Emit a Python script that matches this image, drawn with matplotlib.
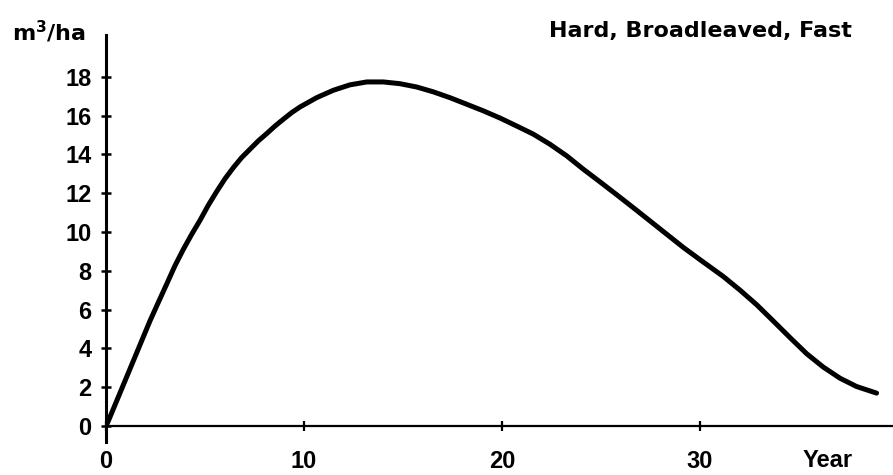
import matplotlib
matplotlib.use("Agg")
import matplotlib.pyplot as plt

# points: year vs m3/ha
years = [0, 0.12, 0.54, 0.96, 1.38, 1.80, 2.22, 2.64, 3.06, 3.48, 3.91,
         4.33, 4.75, 5.17, 5.59, 6.01, 6.43, 6.85, 7.27, 7.69, 8.12, 8.54,
         8.96, 9.38, 9.80, 10.64, 11.48, 12.32, 13.17, 14.01, 14.85, 15.69,
         16.53, 17.37, 18.22, 19.06, 19.90, 20.74, 21.58, 22.42, 23.27,
         24.11, 24.95, 25.79, 26.63, 27.47, 28.32, 29.16, 30.00,
         31.18, 32.02, 32.86, 33.70, 34.55, 35.39, 36.23, 37.07, 37.91, 38.92]
volume = [0, 0.26, 1.29, 2.32, 3.35, 4.38, 5.41, 6.36, 7.30, 8.25, 9.11,
          9.88, 10.60, 11.38, 12.08, 12.74, 13.31, 13.83, 14.26, 14.69, 15.07,
          15.46, 15.81, 16.15, 16.44, 16.92, 17.30, 17.58, 17.73, 17.73, 17.64,
          17.47, 17.22, 16.92, 16.58, 16.24, 15.87, 15.46, 15.04, 14.52, 13.92,
          13.23, 12.58, 11.92, 11.25, 10.57, 9.88, 9.20, 8.57,
          7.70, 7.00, 6.25, 5.41, 4.55, 3.72, 3.03, 2.46, 2.03, 1.69]
xticks = [0, 10, 20, 30]
yticks = [0, 2, 4, 6, 8, 10, 12, 14, 16, 18]
title = "Hard, Broadleaved, Fast"

plt.rcParams['font.family'] = ['Liberation Sans', 'DejaVu Sans']
plt.rcParams['font.weight'] = 'bold'
plt.rcParams['mathtext.fontset'] = 'custom'
plt.rcParams['mathtext.bf'] = 'DejaVu Sans:bold'
plt.rcParams['mathtext.rm'] = 'DejaVu Sans:bold'
plt.rcParams['mathtext.default'] = 'bf'

fig = plt.figure(figsize=(8.93, 4.75), dpi=100)
ax = fig.add_axes([106/893, 33/475, 1 - 106/893, (441-34)/475])

ax.plot(years, volume, color='black', lw=3.6, solid_capstyle='round',
        solid_joinstyle='round')

ax.set_xlim(0, 39.75)
ax.set_ylim(-0.83, 20.15)
ax.spines['top'].set_visible(False)
ax.spines['right'].set_visible(False)
ax.spines['bottom'].set_position(('data', 0))
ax.spines['left'].set_linewidth(2.2)
ax.spines['bottom'].set_linewidth(1.6)

ax.set_xticks(xticks)
ax.set_yticks(yticks)
ax.tick_params(axis='y', direction='inout', length=7, width=1.8,
               pad=7, labelsize=17)
ax.tick_params(axis='x', direction='inout', length=7, width=1.6,
               pad=14, labelsize=17)

fig.text(852/893, 1 - 37/475, title, ha='right', va='baseline', fontsize=16,
         fontweight='bold', family='DejaVu Sans')
fig.text(12/893, 1 - 41/475, r'm$^3$/ha', ha='left', va='baseline',
         fontsize=16, fontweight='bold', family='DejaVu Sans')
fig.text(828/893, 1 - 449/475, 'Year', ha='center', va='top',
         fontsize=17, fontweight='bold')

fig.savefig('out.png', dpi=100)
